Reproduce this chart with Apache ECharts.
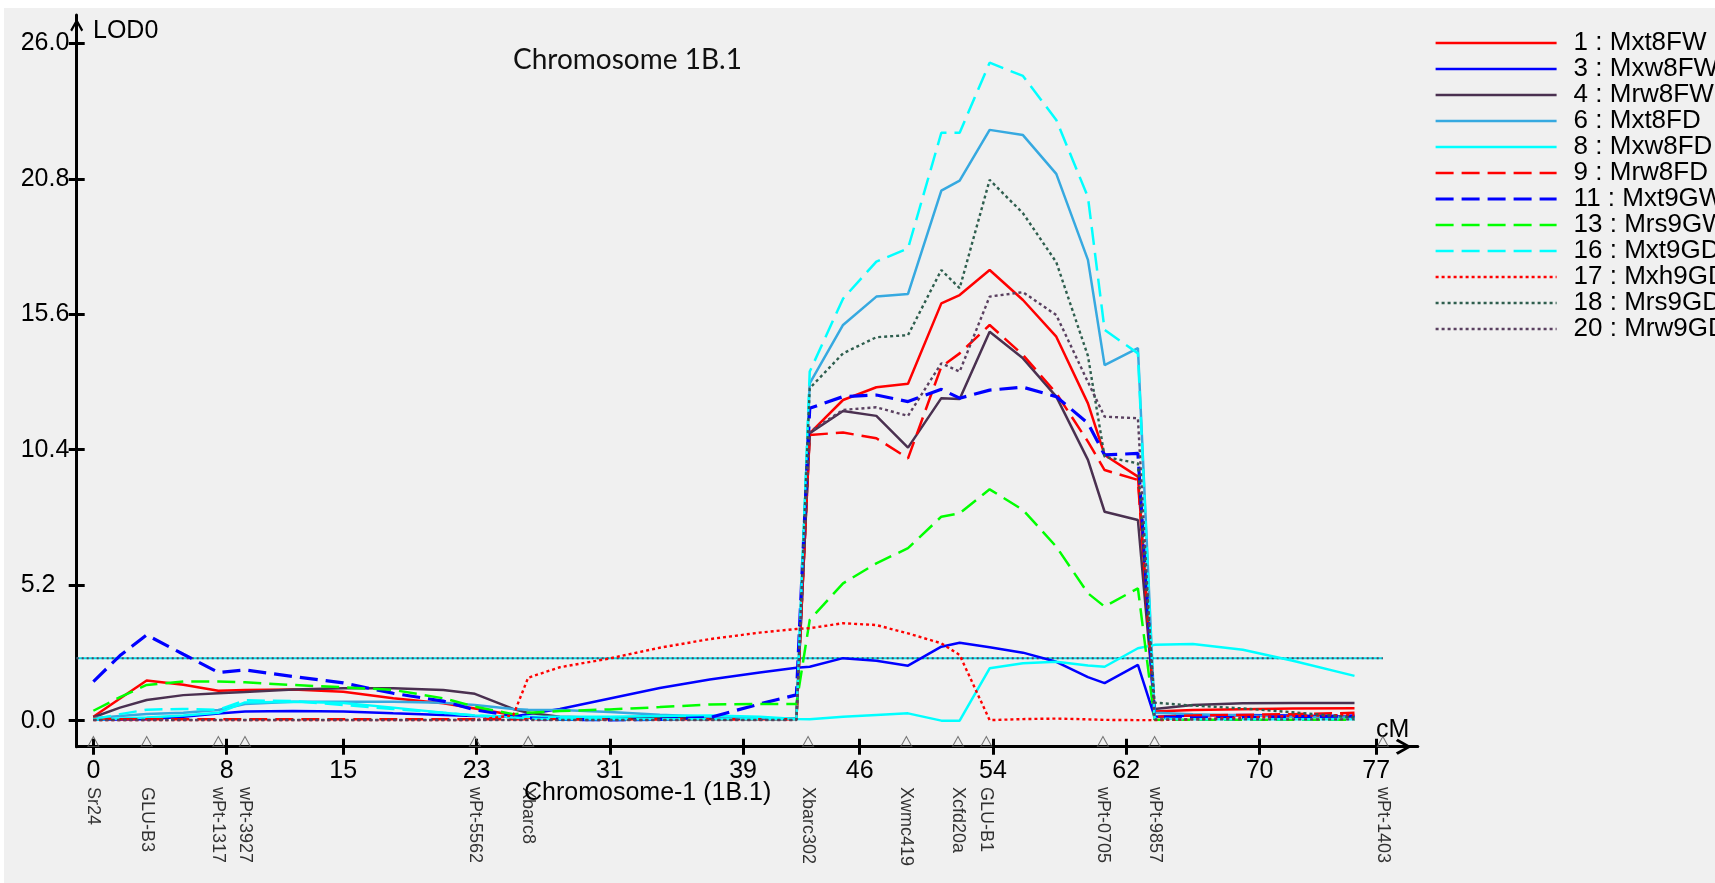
<!DOCTYPE html>
<html>
<head>
<meta charset="utf-8">
<script src="https://cdn.jsdelivr.net/npm/echarts@6/dist/echarts.min.js"></script>
<style>
  html, body { margin: 0; padding: 0; background: #f0f0f0; }
  #chart { width: 1715px; height: 883px; }
</style>
</head>
<body>
<div id="chart"></div>
<script>
// Map positions (cM) at which the LOD profiles are evaluated
const cmPositions = [0, 1.6, 3.2, 5.4, 7.5, 9.1, 12, 15, 18, 21, 22.9, 25.2, 26.1, 28, 31, 34, 37, 40, 42.2,
  43.0, 45.0, 47.0, 48.9, 50.9, 52.0, 53.8, 55.8, 57.8, 59.7, 60.7, 62.7, 63.7, 66, 69, 72, 75.7];

// LOD profiles, one value per map position
const mxt8FW = [0.15, 0.85, 1.54, 1.38, 1.15, 1.18, 1.20, 1.11, 0.86, 0.67, 0.47, 0.22, 0.12, 0.05, 0.05, 0.05, 0.05, 0.05, 0.05,
  11.03, 12.31, 12.80, 12.93, 16.02, 16.34, 17.30, 16.15, 14.74, 12.18, 10.20, 9.37, 0.35, 0.41, 0.44, 0.47, 0.48];
const mxw8FW = [0.03, 0.04, 0.05, 0.15, 0.27, 0.35, 0.37, 0.35, 0.28, 0.22, 0.18, 0.16, 0.25, 0.45, 0.85, 1.25, 1.58, 1.85, 2.03,
  2.07, 2.40, 2.30, 2.11, 2.84, 2.99, 2.82, 2.61, 2.26, 1.67, 1.44, 2.14, 0.15, 0.20, 0.22, 0.20, 0.15];
const mrw8FW = [0.13, 0.50, 0.79, 0.98, 1.05, 1.10, 1.20, 1.24, 1.24, 1.18, 1.03, 0.45, 0.30, 0.15, 0.10, 0.10, 0.08, 0.08, 0.08,
  11.03, 11.89, 11.70, 10.48, 12.38, 12.35, 14.93, 13.91, 12.44, 10.01, 8.02, 7.70, 0.45, 0.60, 0.67, 0.68, 0.68];
const mxt8FD = [0.09, 0.18, 0.26, 0.30, 0.41, 0.64, 0.73, 0.73, 0.73, 0.69, 0.60, 0.45, 0.42, 0.41, 0.33, 0.23, 0.15, 0.10, 0.08,
  12.95, 15.19, 16.28, 16.38, 20.35, 20.73, 22.68, 22.48, 20.99, 17.69, 13.65, 14.30, 0.30, 0.25, 0.20, 0.15, 0.12];
const mxw8FD = [0.03, 0.08, 0.12, 0.20, 0.30, 0.70, 0.73, 0.68, 0.50, 0.30, 0.20, 0.15, 0.15, 0.15, 0.15, 0.18, 0.20, 0.15, 0.06,
  0.05, 0.15, 0.22, 0.28, 0.00, 0.00, 2.01, 2.20, 2.26, 2.12, 2.07, 2.78, 2.91, 2.94, 2.72, 2.30, 1.72];
const mrw8FD = [0.10, 0.05, 0.05, 0.05, 0.05, 0.05, 0.05, 0.05, 0.05, 0.05, 0.05, 0.05, 0.05, 0.05, 0.05, 0.05, 0.05, 0.05, 0.05,
  10.97, 11.06, 10.84, 10.07, 13.59, 14.10, 15.19, 14.04, 12.57, 10.71, 9.62, 9.24, 0.15, 0.20, 0.22, 0.25, 0.30];
const mxt9GW = [1.50, 2.50, 3.29, 2.55, 1.85, 1.95, 1.69, 1.45, 1.05, 0.75, 0.41, 0.20, 0.10, 0.05, 0.03, 0.05, 0.12, 0.64, 0.99,
  11.99, 12.44, 12.50, 12.25, 12.72, 12.38, 12.69, 12.80, 12.44, 11.42, 10.20, 10.26, 0.15, 0.10, 0.12, 0.15, 0.18];
const mrs9GW = [0.38, 0.90, 1.37, 1.50, 1.50, 1.47, 1.37, 1.28, 1.18, 0.86, 0.54, 0.25, 0.30, 0.37, 0.43, 0.52, 0.62, 0.64, 0.64,
  3.87, 5.27, 6.04, 6.62, 7.83, 7.96, 8.88, 8.09, 6.68, 4.89, 4.38, 5.08, 0.03, 0.03, 0.03, 0.03, 0.03];
const mxt9GD = [0.05, 0.25, 0.42, 0.45, 0.42, 0.78, 0.75, 0.60, 0.45, 0.30, 0.20, 0.12, 0.08, 0.05, 0.05, 0.05, 0.05, 0.05, 0.05,
  13.40, 16.20, 17.62, 18.13, 22.57, 22.57, 25.26, 24.75, 23.06, 20.10, 15.00, 14.10, 0.08, 0.05, 0.05, 0.05, 0.05];
const mxh9GD = [0.02, 0.02, 0.02, 0.02, 0.02, 0.02, 0.02, 0.02, 0.02, 0.02, 0.02, 0.20, 1.65, 2.05, 2.39, 2.80, 3.13, 3.38, 3.52,
  3.55, 3.74, 3.67, 3.35, 2.97, 2.52, 0.02, 0.06, 0.08, 0.05, 0.03, 0.02, 0.02, 0.05, 0.12, 0.18, 0.22];
const mrs9GD = [0.03, 0.03, 0.03, 0.03, 0.03, 0.03, 0.03, 0.03, 0.03, 0.03, 0.03, 0.03, 0.03, 0.03, 0.03, 0.03, 0.03, 0.03, 0.03,
  12.76, 14.10, 14.72, 14.80, 17.30, 16.60, 20.76, 19.48, 17.60, 14.00, 10.13, 9.88, 0.69, 0.58, 0.47, 0.32, 0.12];
const mrw9GD = [0.02, 0.02, 0.02, 0.02, 0.02, 0.02, 0.02, 0.02, 0.02, 0.02, 0.02, 0.02, 0.02, 0.02, 0.02, 0.02, 0.02, 0.02, 0.02,
  11.09, 11.93, 12.03, 11.70, 13.72, 13.40, 16.28, 16.45, 15.57, 13.00, 11.67, 11.61, 0.05, 0.05, 0.05, 0.05, 0.05];

// LOD significance threshold and its extent along the map
const lodThreshold = 2.4;
const thresholdSpan = [-1, 77.4];

// Markers on chromosome 1B.1
const markerNames = ['Sr24', 'GLU-B3', 'wPt-1317', 'wPt-3927', 'wPt-5562', 'Xbarc8', 'Xbarc302',
  'Xwmc419', 'Xcfd20a', 'GLU-B1', 'wPt-0705', 'wPt-9857', 'wPt-1403'];
const markerPositions = [0, 3.2, 7.5, 9.1, 22.9, 26.1, 42.9, 48.8, 51.9, 53.6, 60.6, 63.7, 77.4];

// Axis tick values
const cmTicks = [0, 8, 15, 23, 31, 39, 46, 54, 62, 70, 77];
const lodTicks = [0, 5.2, 10.4, 15.6, 20.8, 26.0];

const FONT = 'Liberation Sans, Arial, sans-serif';
const DASHED = [18, 8];
const DOTTED = [3, 3];

const traits = [
  { name: '1 : Mxt8FW',  values: mxt8FW, color: '#ff0000', dash: 'solid', width: 2.5 },
  { name: '3 : Mxw8FW',  values: mxw8FW, color: '#0000ff', dash: 'solid', width: 2.5 },
  { name: '4 : Mrw8FW',  values: mrw8FW, color: '#4a3050', dash: 'solid', width: 2.5 },
  { name: '6 : Mxt8FD',  values: mxt8FD, color: '#36a9e0', dash: 'solid', width: 2.5 },
  { name: '8 : Mxw8FD',  values: mxw8FD, color: '#00ffff', dash: 'solid', width: 2.5 },
  { name: '9 : Mrw8FD',  values: mrw8FD, color: '#ff0000', dash: DASHED, width: 2.5 },
  { name: '11 : Mxt9GW', values: mxt9GW, color: '#0000ff', dash: DASHED, width: 3.2 },
  { name: '13 : Mrs9GW', values: mrs9GW, color: '#00ff00', dash: DASHED, width: 2.5 },
  { name: '16 : Mxt9GD', values: mxt9GD, color: '#00ffff', dash: DASHED, width: 2.5 },
  { name: '17 : Mxh9GD', values: mxh9GD, color: '#ff0000', dash: DOTTED, width: 2.4 },
  { name: '18 : Mrs9GD', values: mrs9GD, color: '#2e5e4e', dash: DOTTED, width: 2.4 },
  { name: '20 : Mrw9GD', values: mrw9GD, color: '#5a4060', dash: DOTTED, width: 2.4 }
];

// Open arrow head pointing along the axis direction
const ARROW = 'path://M50,0 L100,88 L86,100 L50,34 L14,100 L0,88 Z';

const gridRect = { left: 76.7, right: 297.2, top: 15, bottom: 136.3 };
const xRange = { min: -1, max: 79.5 };
const yRange = { min: -1, max: 27.09 };

const series = traits.map(t => ({
  name: t.name,
  type: 'line',
  xAxisIndex: 0,
  yAxisIndex: 0,
  data: cmPositions.map((c, i) => [c, t.values[i]]),
  symbol: 'none',
  showSymbol: false,
  lineStyle: { color: t.color, type: t.dash, width: t.width },
  itemStyle: { color: t.color },
  silent: true,
  z: 3
}));

// Threshold line: cyan base with a dark dotted overlay
const thresholdData = thresholdSpan.map(c => [c, lodThreshold]);
series.push({
  type: 'line', data: thresholdData, symbol: 'none', silent: true, z: 2,
  lineStyle: { color: '#00e0e8', width: 2, type: 'solid' }
});
series.push({
  type: 'line', data: thresholdData, symbol: 'none', silent: true, z: 2,
  lineStyle: { color: '#5a4060', width: 2, type: [2, 3] }
});

// Marker triangles with their names written downwards under the axis
series.push({
  type: 'scatter',
  data: markerPositions.map((p, i) => ({ value: [p, -0.8], name: markerNames[i] })),
  symbol: 'triangle',
  symbolSize: [11, 10],
  itemStyle: { color: 'rgba(0,0,0,0)', borderColor: '#555', borderWidth: 1 },
  label: {
    show: true, formatter: '{b}', position: 'bottom', distance: 40,
    rotate: -90, align: 'left', verticalAlign: 'middle',
    fontSize: 18, fontFamily: FONT, color: '#000'
  },
  silent: true,
  clip: false,
  z: 6
});

const chart = echarts.init(document.getElementById('chart'), null, { renderer: 'canvas', width: 1715, height: 883 });

chart.setOption({
  animation: false,
  backgroundColor: '#f0f0f0',
  grid: [
    Object.assign({ containLabel: false }, gridRect),
    Object.assign({ containLabel: false }, gridRect)
  ],
  xAxis: [
    {
      type: 'value', gridIndex: 0, min: xRange.min, max: xRange.max,
      axisLine: {
        show: true, onZero: false, lineStyle: { color: '#000', width: 3 },
        symbol: ['none', ARROW], symbolSize: [16, 28], symbolOffset: [0, -14]
      },
      axisTick: { show: true, customValues: cmTicks, length: 8, lineStyle: { color: '#000', width: 3 } },
      axisLabel: { customValues: cmTicks, fontSize: 25, fontFamily: FONT, color: '#000', margin: 12 },
      splitLine: { show: false }
    },
    {
      type: 'value', gridIndex: 1, min: xRange.min, max: xRange.max,
      axisLine: { show: false, onZero: false },
      axisTick: { show: true, inside: true, customValues: cmTicks, length: 8, lineStyle: { color: '#000', width: 3 } },
      axisLabel: { show: false },
      splitLine: { show: false }
    }
  ],
  yAxis: [
    {
      type: 'value', gridIndex: 0, min: yRange.min, max: yRange.max,
      axisLine: {
        show: true, onZero: false, lineStyle: { color: '#000', width: 3 },
        symbol: ['none', ARROW], symbolSize: [13, 20], symbolOffset: [0, -10]
      },
      axisTick: { show: true, customValues: lodTicks, length: 8, lineStyle: { color: '#000', width: 3 } },
      axisLabel: {
        customValues: lodTicks, formatter: v => v.toFixed(1), align: 'left', margin: 56,
        fontSize: 25, fontFamily: FONT, color: '#000'
      },
      splitLine: { show: false }
    },
    {
      type: 'value', gridIndex: 1, min: yRange.min, max: yRange.max,
      axisLine: { show: false, onZero: false },
      axisTick: { show: true, inside: true, customValues: lodTicks, length: 8, lineStyle: { color: '#000', width: 3 } },
      axisLabel: { show: false },
      splitLine: { show: false }
    }
  ],
  legend: {
    data: traits.map(t => t.name),
    orient: 'vertical',
    left: 1434,
    top: 30,
    padding: 0,
    itemGap: 0,
    itemWidth: 121,
    itemHeight: 14,
    selectedMode: false,
    itemStyle: { color: 'rgba(0,0,0,0)', borderWidth: 0, opacity: 0 },
    lineStyle: { width: 'inherit', type: 'inherit' },
    textStyle: { fontSize: 26, fontFamily: FONT, color: '#000', lineHeight: 26, padding: [0, 0, 0, 12] }
  },
  graphic: [
    { type: 'rect', shape: { x: 0, y: 0, width: 1715, height: 8 }, style: { fill: '#ffffff' }, silent: true },
    { type: 'rect', shape: { x: 0, y: 0, width: 4, height: 883 }, style: { fill: '#ffffff' }, silent: true },
    { type: 'text', x: 513, y: 60, silent: true,
      style: { text: 'Chromosome 1B.1', fontSize: 28, fontFamily: 'Lato, sans-serif', fill: '#111', verticalAlign: 'middle' } },
    { type: 'text', x: 93, y: 31, silent: true,
      style: { text: 'LOD0', fontSize: 25, fontFamily: FONT, fill: '#000', verticalAlign: 'middle' } },
    { type: 'text', x: 1376, y: 730, silent: true,
      style: { text: 'cM', fontSize: 25, fontFamily: FONT, fill: '#000', verticalAlign: 'middle' } },
    { type: 'text', x: 524, y: 793, silent: true,
      style: { text: 'Chromosome-1 (1B.1)', fontSize: 25, fontFamily: FONT, fill: '#000', verticalAlign: 'middle' } }
  ],
  series: series
});
</script>
</body>
</html>
